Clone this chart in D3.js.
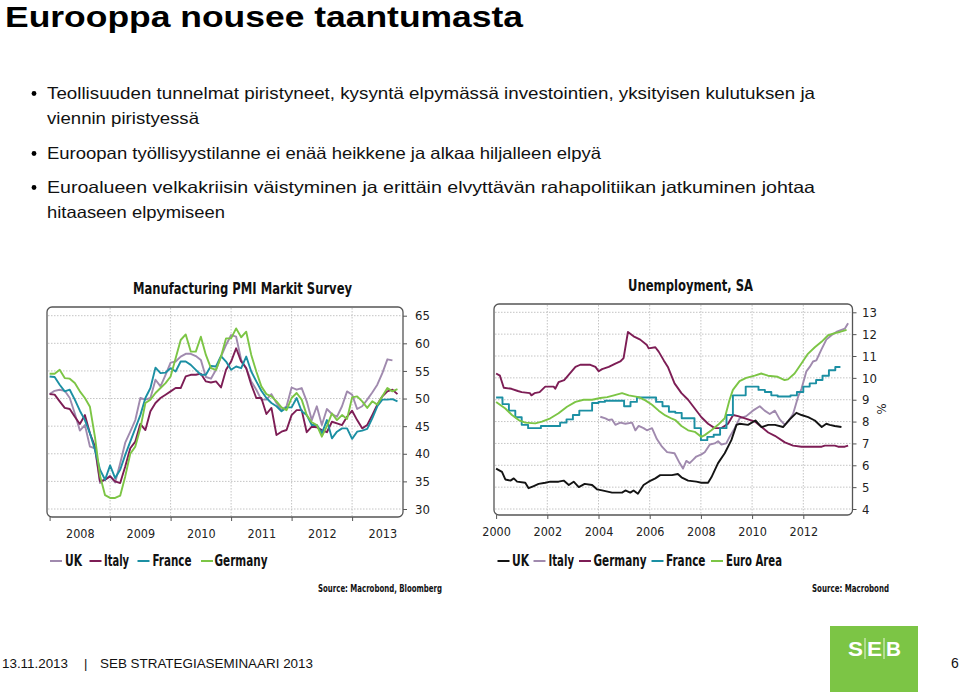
<!DOCTYPE html>
<html><head><meta charset="utf-8">
<script src="https://cdn.jsdelivr.net/npm/d3@7"></script>
<style>
body{margin:0;background:#fff}
svg{display:block}
.cond{font-family:"Liberation Sans Narrow","DejaVu Sans Condensed","Open Sans",sans-serif;font-stretch:condensed}
.arial{font-family:"Liberation Sans",Arial,sans-serif}
</style></head>
<body>
<svg id="c" width="960" height="692"></svg>
<script>
// ---------------- DATA ----------------
const titleText = "Eurooppa nousee taantumasta";
const bulletLines = [
  ["Teollisuuden tunnelmat piristyneet, kysyntä elpymässä investointien, yksityisen kulutuksen ja", true],
  ["viennin piristyessä", false],
  ["Euroopan työllisyystilanne ei enää heikkene ja alkaa hiljalleen elpyä", true],
  ["Euroalueen velkakriisin väistyminen ja erittäin elvyttävän rahapolitiikan jatkuminen johtaa", true],
  ["hitaaseen elpymiseen", false]
];

// Manufacturing PMI, monthly from Jan 2008
const pmiStartYear = 2008;
const pmiYearTicks = [2008, 2009, 2010, 2011, 2012, 2013];
const pmiValueTicks = [30, 35, 40, 45, 50, 55, 60, 65];
const pmiUK = [50.8,51.4,51.6,51.4,50.1,47.3,44.2,45.2,41.3,41.0,34.7,35.3,
  36.0,34.8,38.3,42.0,44.0,46.1,50.1,49.8,50.1,53.4,52.2,54.3,
  56.5,56.7,57.6,58.1,58.1,57.7,57.0,53.9,53.6,55.2,57.6,59.7,
  61.5,61.2,57.0,55.5,53.1,51.6,49.8,49.8,50.8,49.2,47.9,48.6,
  52.0,51.6,51.9,49.5,46.1,48.6,45.2,48.1,47.2,46.7,48.6,51.3,
  50.7,48.1,48.6,49.8,51.1,52.5,54.6,57.1,56.9];
const pmiItaly = [50.8,50.7,49.5,48.3,48.1,46.7,45.4,47.0,43.7,41.3,35.0,35.3,
  35.9,35.0,34.7,37.7,41.0,42.2,45.4,44.3,47.7,49.2,50.1,50.7,
  51.3,51.9,51.9,54.0,54.3,54.3,54.5,53.1,52.9,53.1,52.0,55.2,
  56.7,59.1,56.7,55.5,52.5,50.1,50.1,47.2,48.3,43.4,44.0,44.3,
  47.0,47.9,47.9,43.9,44.9,44.8,44.3,43.9,45.8,45.5,45.2,46.7,
  47.8,46.1,44.6,45.2,47.0,48.9,50.4,51.3,51.6,50.8];
const pmiFrance = [54.0,53.9,52.5,51.3,51.6,49.8,47.8,46.1,43.7,40.7,37.1,35.3,
  37.9,35.6,37.1,39.8,42.2,44.6,47.0,50.1,51.9,55.6,54.6,54.7,
  55.5,54.9,56.7,56.7,56.1,55.2,54.3,54.3,55.9,55.8,57.7,56.7,
  55.2,55.8,55.5,57.6,54.9,53.1,51.4,50.1,49.2,48.6,47.7,48.4,
  48.4,50.1,47.7,47.0,45.2,45.2,43.7,46.1,42.8,44.0,44.6,44.6,
  42.7,44.0,44.2,44.5,46.4,48.6,49.8,49.8,49.9,49.5];
const pmiGermany = [54.5,54.5,55.2,53.7,53.6,52.8,51.3,50.1,48.5,43.0,36.0,32.5,
  32.0,32.0,32.4,35.9,40.0,41.3,44.6,49.2,49.8,51.0,51.9,52.8,
  54.0,57.3,60.6,61.6,58.5,58.5,61.2,57.9,55.5,55.2,57.6,60.9,
  60.9,62.7,61.1,62.1,57.9,54.9,52.2,50.8,50.4,49.5,48.4,47.9,
  50.1,51.0,49.8,47.0,45.7,45.2,43.1,45.0,47.3,46.1,47.0,46.3,
  50.2,50.4,49.5,48.3,49.5,48.9,50.4,51.9,51.3,51.7];

// Unemployment, SA ([year, %])
const unempYearTicks = [2000, 2002, 2004, 2006, 2008, 2010, 2012];
const unempValueTicks = [4,5,6,7,8,9,10,11,12,13];
const unempUK = [[2000.0,5.85],[2000.23,5.7],[2000.36,5.35],[2000.56,5.3],[2000.69,5.4],[2000.82,5.25],[2001.14,5.2],[2001.27,4.95],[2001.47,5.05],[2001.66,5.15],[2001.92,5.2],[2002.12,5.25],[2002.44,5.25],[2002.64,5.3],[2002.84,5.1],[2003.03,5.25],[2003.23,5.0],[2003.46,5.15],[2003.75,5.1],[2003.94,4.9],[2004.14,4.85],[2004.53,4.75],[2004.92,4.75],[2005.05,4.85],[2005.24,4.75],[2005.37,4.85],[2005.54,4.7],[2005.76,5.1],[2005.96,5.25],[2006.22,5.4],[2006.41,5.55],[2006.87,5.55],[2007.1,5.6],[2007.24,5.45],[2007.5,5.3],[2007.82,5.25],[2008.02,5.2],[2008.28,5.2],[2008.41,5.45],[2008.67,6.1],[2008.93,6.55],[2009.19,7.15],[2009.39,7.85],[2009.52,7.9],[2009.84,7.85],[2010.13,8.05],[2010.37,7.75],[2010.63,7.85],[2010.89,7.85],[2011.21,7.75],[2011.47,8.1],[2011.73,8.4],[2011.93,8.3],[2012.19,8.2],[2012.45,8.05],[2012.72,7.75],[2012.9,7.9],[2013.03,7.85],[2013.23,7.8],[2013.49,7.75]];
const unempItaly = [[2004.07,8.22],[2004.27,8.15],[2004.4,8.07],[2004.53,8.1],[2004.66,7.85],[2004.85,7.95],[2005.05,7.9],[2005.31,7.95],[2005.44,7.6],[2005.57,7.8],[2005.76,7.7],[2005.89,7.6],[2006.09,7.7],[2006.28,7.2],[2006.48,6.85],[2006.68,6.6],[2006.97,6.55],[2007.17,6.1],[2007.3,5.85],[2007.43,6.2],[2007.56,6.1],[2007.69,6.25],[2007.82,6.4],[2008.02,6.5],[2008.15,6.6],[2008.35,6.95],[2008.54,7.0],[2008.67,7.1],[2008.8,6.95],[2008.99,7.0],[2009.12,7.3],[2009.32,7.7],[2009.51,8.15],[2009.77,8.25],[2010.03,8.5],[2010.3,8.7],[2010.49,8.5],[2010.69,8.35],[2010.89,8.5],[2011.08,8.1],[2011.28,7.85],[2011.4,8.0],[2011.6,8.35],[2011.8,9.15],[2011.93,9.5],[2012.12,10.3],[2012.25,10.5],[2012.38,10.75],[2012.51,10.8],[2012.71,11.3],[2012.9,11.75],[2013.1,11.95],[2013.29,12.1],[2013.49,12.2],[2013.62,12.25],[2013.75,12.5]];
const unempGermany = [[2000.0,10.2],[2000.15,10.1],[2000.3,9.55],[2000.6,9.5],[2000.85,9.4],[2001.0,9.35],[2001.32,9.3],[2001.38,9.2],[2001.5,9.3],[2001.7,9.35],[2001.92,9.6],[2002.25,9.6],[2002.31,9.5],[2002.44,9.8],[2002.66,9.9],[2003.1,10.5],[2003.29,10.6],[2003.68,10.6],[2003.88,10.5],[2004.01,10.3],[2004.14,10.4],[2004.4,10.5],[2004.66,10.65],[2004.85,10.75],[2004.98,10.9],[2005.15,12.1],[2005.37,11.9],[2005.63,11.75],[2005.89,11.5],[2005.96,11.35],[2006.22,11.4],[2006.35,11.2],[2006.55,10.8],[2006.71,10.5],[2006.97,9.75],[2007.24,9.3],[2007.5,9.0],[2007.76,8.6],[2008.02,8.2],[2008.28,7.9],[2008.54,7.7],[2008.8,7.7],[2009.06,7.9],[2009.26,8.3],[2009.45,8.25],[2009.72,8.15],[2010.11,8.0],[2010.37,7.75],[2010.63,7.5],[2010.89,7.35],[2011.28,7.05],[2011.6,6.9],[2011.93,6.85],[2012.72,6.85],[2012.84,6.9],[2013.23,6.9],[2013.36,6.85],[2013.62,6.85],[2013.75,6.9]];
// France: quarterly steps from 2000Q1
const unempFranceStart = 2000;
const unempFranceEnd = 2013.45;
const unempFranceQ = [9.1,8.8,8.5,8.2,7.85,7.7,7.7,7.8,7.8,7.8,7.95,8.1,8.3,8.5,8.5,8.85,8.9,8.95,8.95,8.95,8.7,8.9,9.1,9.1,9.1,8.9,8.7,8.45,8.4,8.15,8.15,7.7,7.15,7.3,7.4,7.7,8.3,9.2,9.2,9.6,9.6,9.45,9.35,9.2,9.15,9.15,9.2,9.35,9.6,9.75,9.9,10.1,10.35,10.5];
const unempEuroArea = [[2000.0,8.9],[2000.36,8.6],[2000.62,8.3],[2000.88,8.07],[2001.14,7.95],[2001.53,7.92],[2001.79,8.0],[2002.12,8.15],[2002.44,8.38],[2002.77,8.68],[2003.1,8.9],[2003.42,9.0],[2003.75,9.0],[2004.07,9.08],[2004.34,9.12],[2004.6,9.2],[2004.92,9.3],[2005.18,9.2],[2005.57,9.12],[2005.83,8.97],[2006.09,8.77],[2006.35,8.5],[2006.61,8.28],[2006.87,8.13],[2007.0,8.07],[2007.24,7.8],[2007.5,7.6],[2007.76,7.53],[2008.02,7.3],[2008.15,7.38],[2008.41,7.6],[2008.67,7.85],[2008.93,8.15],[2009.12,9.0],[2009.25,9.45],[2009.51,9.85],[2009.77,10.0],[2010.1,10.1],[2010.36,10.2],[2010.62,10.1],[2011.0,10.05],[2011.27,9.9],[2011.4,9.93],[2011.66,10.2],[2011.92,10.65],[2012.18,11.1],[2012.45,11.4],[2012.71,11.65],[2012.97,11.95],[2013.23,12.05],[2013.43,12.1],[2013.69,12.2]];

// ---------------- STYLE ----------------
const C = {lav:"#a08aae", maroon:"#7d1d55", teal:"#1b8fa3", green:"#7cc545", black:"#141414"};
const svg = d3.select("#c");
const condFont = '"Liberation Sans Narrow","DejaVu Sans Condensed","Open Sans",sans-serif';
const arial = '"Liberation Sans",Arial,sans-serif';

// Title + bullets
svg.append("text").attr("x",5).attr("y",27).attr("font-family",arial).attr("font-weight","bold")
  .attr("font-size",30).attr("textLength",518).attr("lengthAdjust","spacingAndGlyphs").attr("fill","#000").text(titleText);
const bulletY = [99,124,159,193,218];
const bulletW = [768,152,554,768,178];
bulletLines.forEach((b,i)=>{
  if(b[1]) svg.append("circle").attr("cx",34).attr("cy",bulletY[i]-5.5).attr("r",2.4).attr("fill","#000");
  svg.append("text").attr("x",47).attr("y",bulletY[i]).attr("font-family",arial).attr("font-size",16.5)
    .attr("textLength",bulletW[i]).attr("lengthAdjust","spacingAndGlyphs").attr("fill","#111").text(b[0]);
});

function frame(g,x0,y0,x1,y1){
  g.append("rect").attr("x",x0).attr("y",y0).attr("width",x1-x0).attr("height",y1-y0)
   .attr("rx",5).attr("fill","#fff").attr("stroke","#555").attr("stroke-width",1.3);
}
function styleAxis(a, size){
  a.select(".domain").remove();
  a.selectAll("text").attr("font-family",condFont).attr("font-size",size).attr("fill","#222");
  a.selectAll("line").attr("stroke","#555");
}

// ---------------- LEFT CHART: PMI ----------------
{
  const fx0=47, fx1=403, fy0=307, fy1=517;
  const x = d3.scaleLinear().domain([2008,2014]).range([49.6,412.6]);
  const y = d3.scaleLinear().domain([30,65]).range([509,315.7]);
  const g = svg.append("g");
  svg.append("text").attr("x",242.5).attr("y",294).attr("text-anchor","middle").attr("font-family",condFont)
    .attr("font-weight","bold").attr("font-size",16).attr("textLength",219).attr("lengthAdjust","spacingAndGlyphs")
    .attr("fill","#111").text("Manufacturing PMI Markit Survey");
  frame(g,fx0,fy0,fx1,fy1);
  const grid = g.append("g").attr("stroke","#c4c4c4").attr("stroke-dasharray","1.5,1.5").attr("stroke-width",1);
  pmiValueTicks.forEach(v=>grid.append("line").attr("x1",fx0+1).attr("x2",fx1-1).attr("y1",y(v)).attr("y2",y(v)));
  pmiYearTicks.slice(1).forEach(t=>grid.append("line").attr("x1",x(t)).attr("x2",x(t)).attr("y1",fy0+1).attr("y2",fy1-1));
  // y axis (right)
  const ya = g.append("g").attr("transform",`translate(${fx1},0)`).call(d3.axisRight(y).tickValues(pmiValueTicks).tickSize(4).tickPadding(8));
  styleAxis(ya,13);
  // x tick marks
  const xt = g.append("g").attr("transform",`translate(0,${fy1})`).call(d3.axisBottom(x).tickValues(pmiYearTicks).tickSize(4).tickFormat(""));
  styleAxis(xt,12);
  const xl = g.append("g").attr("transform",`translate(0,${fy1})`).call(d3.axisBottom(x).tickValues(pmiYearTicks.map(t=>t+0.5)).tickSize(0).tickPadding(12).tickFormat(d=>String(Math.floor(d))));
  styleAxis(xl,12.5);
  const line = d3.line().x((d,i)=>x(pmiStartYear+i/12)).y(d=>y(d)).curve(d3.curveLinear);
  [[pmiUK,C.lav],[pmiItaly,C.maroon],[pmiFrance,C.teal],[pmiGermany,C.green]].forEach(([s,c])=>{
    g.append("path").attr("d",line(s)).attr("fill","none").attr("stroke",c).attr("stroke-width",1.9).attr("stroke-linejoin","round");
  });
  // legend
  const leg = [["UK",C.lav,50,65,17],["Italy",C.maroon,89.5,104,25],["France",C.teal,137.5,152.5,39],["Germany",C.green,201,214.5,53]];
  leg.forEach(([n,c,lx,tx,w])=>{
    svg.append("line").attr("x1",lx).attr("x2",lx+12).attr("y1",561).attr("y2",561).attr("stroke",c).attr("stroke-width",2);
    svg.append("text").attr("x",tx).attr("y",566).attr("font-family",condFont).attr("font-weight","bold").attr("font-size",15)
      .attr("textLength",w).attr("lengthAdjust","spacingAndGlyphs").attr("fill","#111").text(n);
  });
  svg.append("text").attr("x",442).attr("y",592).attr("text-anchor","end").attr("font-family",condFont).attr("font-weight","bold")
    .attr("font-size",10.5).attr("textLength",124).attr("lengthAdjust","spacingAndGlyphs").attr("fill","#111").text("Source: Macrobond, Bloomberg");
}

// ---------------- RIGHT CHART: Unemployment ----------------
{
  const fx0=494, fx1=852.5, fy0=304, fy1=515;
  const x = d3.scaleLinear().domain([2000,2014]).range([496.1,854.5]);
  const y = d3.scaleLinear().domain([4,13]).range([509,312.3]);
  const g = svg.append("g");
  svg.append("text").attr("x",690.5).attr("y",291).attr("text-anchor","middle").attr("font-family",condFont)
    .attr("font-weight","bold").attr("font-size",16).attr("textLength",125).attr("lengthAdjust","spacingAndGlyphs")
    .attr("fill","#111").text("Unemployment, SA");
  frame(g,fx0,fy0,fx1,fy1);
  const grid = g.append("g").attr("stroke","#c4c4c4").attr("stroke-dasharray","1.5,1.5").attr("stroke-width",1);
  unempValueTicks.forEach(v=>grid.append("line").attr("x1",fx0+1).attr("x2",fx1-1).attr("y1",y(v)).attr("y2",y(v)));
  unempYearTicks.slice(1).forEach(t=>grid.append("line").attr("x1",x(t)).attr("x2",x(t)).attr("y1",fy0+1).attr("y2",fy1-1));
  const ya = g.append("g").attr("transform",`translate(${fx1},0)`).call(d3.axisRight(y).tickValues(unempValueTicks).tickSize(4).tickPadding(5.5));
  styleAxis(ya,13);
  const xa = g.append("g").attr("transform",`translate(0,${fy1})`).call(d3.axisBottom(x).tickValues(unempYearTicks).tickSize(4).tickPadding(8).tickFormat(d=>String(d)));
  styleAxis(xa,12.5);
  svg.append("text").attr("transform","translate(886,409) rotate(-90)").attr("text-anchor","middle")
    .attr("font-family",condFont).attr("font-size",13).attr("fill","#222").text("%");
  const line = d3.line().x(d=>x(d[0])).y(d=>y(d[1]));
  const franceData = unempFranceQ.map((v,i)=>[unempFranceStart+i*0.25,v]);
  franceData.push([unempFranceEnd, unempFranceQ[unempFranceQ.length-1]]);
  const stepLine = d3.line().x(d=>x(d[0])).y(d=>y(d[1])).curve(d3.curveStepAfter);
  const draw=(d,c,gen)=>g.append("path").attr("d",(gen||line)(d)).attr("fill","none").attr("stroke",c).attr("stroke-width",1.9).attr("stroke-linejoin","round");
  draw(unempItaly,C.lav);
  draw(unempGermany,C.maroon);
  draw(franceData,C.teal,stepLine);
  draw(unempEuroArea,C.green);
  draw(unempUK,C.black);
  const leg = [["UK",C.black,497.5,512,17],["Italy",C.lav,533.5,548.5,25.5],["Germany",C.maroon,579,593.5,53],["France",C.teal,651.5,666,39.5],["Euro Area",C.green,711,726,56]];
  leg.forEach(([n,c,lx,tx,w])=>{
    svg.append("line").attr("x1",lx).attr("x2",lx+12).attr("y1",561).attr("y2",561).attr("stroke",c).attr("stroke-width",2);
    svg.append("text").attr("x",tx).attr("y",566).attr("font-family",condFont).attr("font-weight","bold").attr("font-size",15)
      .attr("textLength",w).attr("lengthAdjust","spacingAndGlyphs").attr("fill","#111").text(n);
  });
  svg.append("text").attr("x",889).attr("y",592).attr("text-anchor","end").attr("font-family",condFont).attr("font-weight","bold")
    .attr("font-size",10.5).attr("textLength",77).attr("lengthAdjust","spacingAndGlyphs").attr("fill","#111").text("Source: Macrobond");
}

// ---------------- FOOTER ----------------
svg.append("text").attr("x",2).attr("y",668).attr("font-family",arial).attr("font-size",13).attr("textLength",66).attr("lengthAdjust","spacingAndGlyphs").attr("fill","#111").text("13.11.2013");
svg.append("text").attr("x",84).attr("y",668).attr("font-family",arial).attr("font-size",13).attr("fill","#111").text("|");
svg.append("text").attr("x",100).attr("y",668).attr("font-family",arial).attr("font-size",13).attr("textLength",213).attr("lengthAdjust","spacingAndGlyphs").attr("fill","#111").text("SEB STRATEGIASEMINAARI 2013");
svg.append("text").attr("x",951).attr("y",668).attr("font-family",arial).attr("font-size",14).attr("fill","#111").text("6");
svg.append("rect").attr("x",830).attr("y",626).attr("width",88).attr("height",66).attr("fill","#7cc545");
const logo = [["S",848],["E",867],["B",886]];
logo.forEach(([l,lx])=>svg.append("text").attr("x",lx).attr("y",656).attr("font-family",arial).attr("font-weight","bold")
  .attr("font-size",21).attr("textLength",15).attr("lengthAdjust","spacingAndGlyphs").attr("fill","#fff").text(l));
[865,884].forEach(lx=>svg.append("line").attr("x1",lx).attr("x2",lx).attr("y1",638).attr("y2",659).attr("stroke","#e8f5dd").attr("stroke-width",1));
</script>
</body></html>
